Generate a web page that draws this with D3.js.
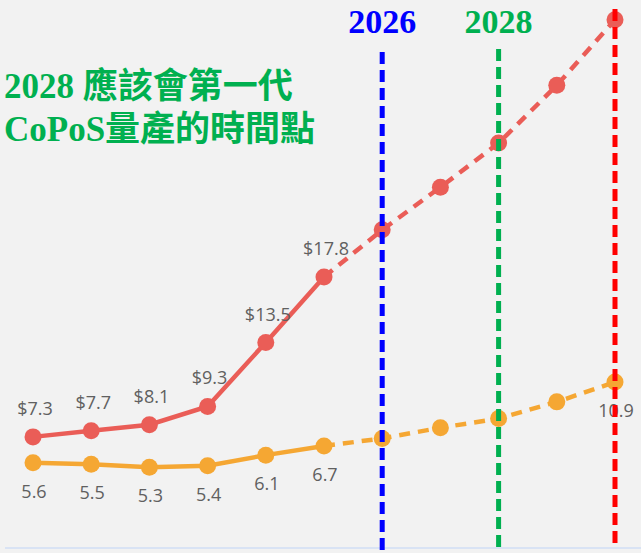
<!DOCTYPE html>
<html>
<head>
<meta charset="utf-8">
<script src="https://cdn.jsdelivr.net/npm/d3@7"></script>
<style>
  html, body { margin: 0; padding: 0; background: #f2f2f2; }
  svg { display: block; }
</style>
</head>
<body>
<div id="chart"></div>
<script>
// data
var years = [2020, 2021, 2022, 2023, 2024, 2025, 2026, 2027, 2028, 2029, 2030];
var redVals = [7.3, 7.7, 8.1, 9.3, 13.5, 17.8, 20.9, 23.7, 26.6, 30.4, 34.7];
var orangeVals = [5.6, 5.5, 5.3, 5.4, 6.1, 6.7, 7.2, 7.9, 8.5, 9.6, 10.9];
var redLabelIdx = [0, 1, 2, 3, 4, 5];
var orangeLabelIdx = [0, 1, 2, 3, 4, 5, 10];
var lastActual = 5;
var markerYears = [2026, 2028, 2030];
var markerLabels = ["2026", "2028", ""];
var titleLines = ["2028 應該會第一代", "CoPoS量產的時間點"];

var width = 641, height = 553;

var svg = d3.select("#chart")
    .append("svg")
    .attr("width", width)
    .attr("height", height);

svg.append("rect").attr("width", width).attr("height", height).attr("fill", "#f2f2f2");

var x = d3.scalePoint()
    .domain(years)
    .range([33, 615]);

var y = d3.scaleLinear()
    .domain([0, 36])
    .range([548, 0]);

// baseline
svg.append("line")
    .attr("x1", 5).attr("x2", width)
    .attr("y1", y(0)).attr("y2", y(0))
    .attr("stroke", "#d9e3f4")
    .attr("stroke-width", 2);

var line = d3.line()
    .x(function (d) { return x(d.year); })
    .y(function (d) { return y(d.v); });

function drawSeries(vals, color) {
    var pts = vals.map(function (v, i) { return {year: years[i], v: v, i: i}; });
    var solid = pts.slice(0, lastActual + 1);
    var dashed = pts.slice(lastActual);
    svg.append("path")
        .attr("d", line(solid))
        .attr("fill", "none")
        .attr("stroke", color)
        .attr("stroke-width", 4.5);
    svg.append("path")
        .attr("d", line(dashed))
        .attr("fill", "none")
        .attr("stroke", color)
        .attr("stroke-width", 4.5)
        .attr("stroke-dasharray", "11,8");
    svg.append("g")
        .selectAll("circle")
        .data(pts)
        .enter()
        .append("circle")
        .attr("cx", function (d) { return x(d.year); })
        .attr("cy", function (d) { return y(d.v); })
        .attr("r", 8.5)
        .attr("fill", color);
}

drawSeries(redVals, "#ea5d57");
drawSeries(orangeVals, "#f5a733");

// value labels
svg.append("g")
    .selectAll("text")
    .data(redLabelIdx)
    .enter()
    .append("text")
    .attr("x", function (i) { return x(years[i]) + 2; })
    .attr("y", function (i) { return y(redVals[i]) - 22; })
    .attr("text-anchor", "middle")
    .style("font-family", "'Open Sans', sans-serif")
    .style("font-size", "18px")
    .style("fill", "#606060")
    .text(function (i) { return "$" + redVals[i]; });

svg.append("g")
    .selectAll("text")
    .data(orangeLabelIdx)
    .enter()
    .append("text")
    .attr("x", function (i) { return x(years[i]) + 1; })
    .attr("y", function (i) { return y(orangeVals[i]) + 35; })
    .attr("text-anchor", "middle")
    .style("font-family", "'Open Sans', sans-serif")
    .style("font-size", "18px")
    .style("fill", "#606060")
    .text(function (i) { return orangeVals[i]; });

// vertical marker lines
var markerColors = ["#0000ff", "#00b050", "#ff0000"];
var markerTop = [52, 49, 9];
var markerBottom = [553, 553, 543];

svg.append("g")
    .selectAll("line")
    .data(markerYears)
    .enter()
    .append("line")
    .attr("x1", function (d) { return x(d); })
    .attr("x2", function (d) { return x(d); })
    .attr("y1", function (d, i) { return markerTop[i]; })
    .attr("y2", function (d, i) { return markerBottom[i]; })
    .attr("stroke", function (d, i) { return markerColors[i]; })
    .attr("stroke-width", 5)
    .attr("stroke-dasharray", "12,6");

svg.append("g")
    .selectAll("text")
    .data(markerYears)
    .enter()
    .append("text")
    .attr("x", function (d) { return x(d); })
    .attr("y", 33)
    .attr("text-anchor", "middle")
    .style("font-family", "'Liberation Serif', 'Times New Roman', serif")
    .style("font-weight", "bold")
    .style("font-size", "34px")
    .style("fill", function (d, i) { return markerColors[i]; })
    .text(function (d, i) { return markerLabels[i]; });

// title
svg.append("g")
    .selectAll("text")
    .data(titleLines)
    .enter()
    .append("text")
    .attr("x", 4)
    .attr("y", function (d, i) { return 98 + i * 43; })
    .style("font-family", "'Liberation Serif', 'Noto Sans CJK TC', serif")
    .style("font-weight", "bold")
    .style("font-size", "35px")
    .style("fill", "#00b050")
    .text(function (d) { return d; });
</script>
</body>
</html>
